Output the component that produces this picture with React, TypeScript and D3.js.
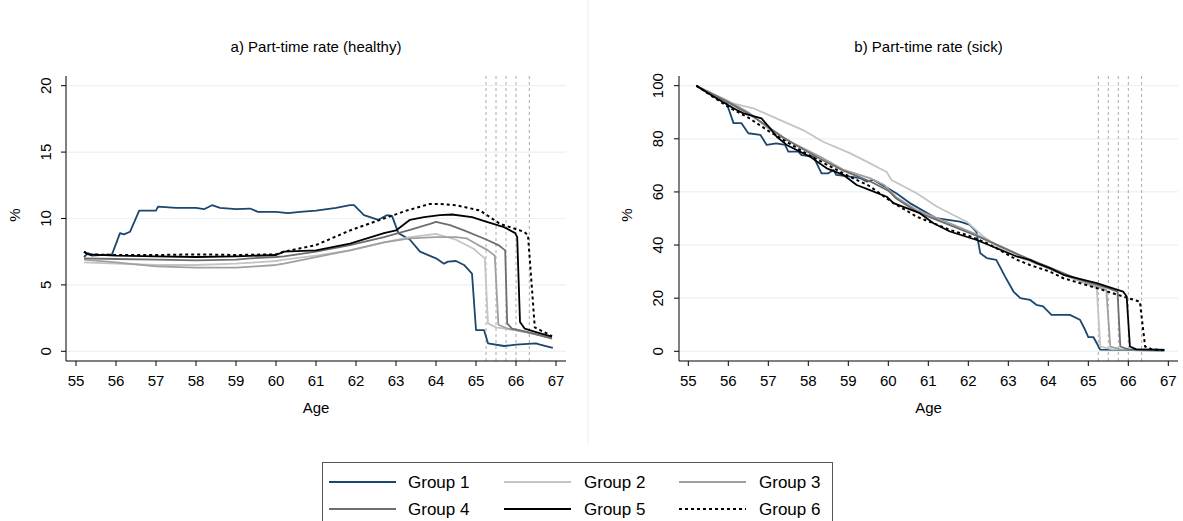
import React from "react";
import * as d3 from "d3";

// ---------- DATA ----------
const groupNames = ["Group 1", "Group 2", "Group 3", "Group 4", "Group 5", "Group 6"];
const xTicks = [55, 56, 57, 58, 59, 60, 61, 62, 63, 64, 65, 66, 67];
const yTicksHealthy = [0, 5, 10, 15, 20];
const yTicksSick = [0, 20, 40, 60, 80, 100];
const retirementAges = [65.25, 65.5, 65.75, 66, 66.333];

// a) healthy: [age, %]
const healthyG1: [number, number][] = [[55.2,7.1],[55.3,7.4],[55.4,7.2],[55.9,7.3],[56.1,8.9],[56.2,8.8],[56.35,9.0],[56.58,10.6],[57.0,10.6],[57.05,10.9],[57.5,10.8],[58.0,10.8],[58.2,10.7],[58.4,11.0],[58.6,10.8],[59.0,10.7],[59.35,10.75],[59.55,10.5],[60.0,10.5],[60.3,10.4],[60.6,10.5],[61.0,10.6],[61.5,10.8],[61.85,11.0],[61.95,11.0],[62.2,10.25],[62.56,9.9],[62.77,10.25],[62.9,10.2],[63.06,8.9],[63.35,8.4],[63.6,7.5],[64.0,7.0],[64.2,6.6],[64.3,6.75],[64.5,6.8],[64.7,6.5],[64.9,5.85],[65.0,1.6],[65.2,1.6],[65.3,0.6],[65.7,0.4],[66.0,0.5],[66.5,0.6],[66.6,0.5],[66.92,0.25]];
const healthyG2: [number, number][] = [[55.2,6.7],[56,6.6],[57,6.5],[58,6.5],[59,6.6],[59.5,6.7],[60,6.8],[60.2,6.9],[61,7.2],[61.85,7.6],[62.7,8.2],[63.35,8.6],[64,8.85],[64.5,8.4],[64.95,7.7],[65.1,7.3],[65.22,7.0],[65.3,2.1],[65.5,1.8],[66,1.6],[66.5,1.3],[66.9,1.05]];
const healthyG3: [number, number][] = [[55.2,6.9],[56,6.7],[57,6.4],[58,6.3],[59,6.3],[59.5,6.4],[60,6.5],[60.2,6.6],[61,7.1],[61.85,7.6],[62.7,8.2],[63.35,8.5],[64,8.6],[64.5,8.6],[64.77,8.5],[65.0,8.1],[65.3,7.6],[65.47,7.2],[65.56,2.0],[65.8,1.7],[66.3,1.4],[66.9,1.0]];
const healthyG4: [number, number][] = [[55.2,7.0],[56,6.95],[57,6.9],[58,6.85],[59,6.9],[59.35,7.0],[60,7.1],[60.2,7.15],[61,7.5],[61.85,8.0],[62.7,8.6],[63.35,9.15],[63.85,9.6],[64.0,9.75],[64.35,9.5],[64.7,9.1],[65.27,8.4],[65.56,8.0],[65.73,7.6],[65.78,2.1],[65.9,1.7],[66.3,1.45],[66.9,0.95]];
const healthyG5: [number, number][] = [[55.2,7.5],[55.3,7.3],[56,7.2],[57,7.15],[58,7.1],[59,7.15],[60,7.25],[60.2,7.5],[61,7.6],[61.85,8.1],[62.7,8.9],[63.0,9.1],[63.35,9.9],[63.7,10.1],[64.1,10.25],[64.4,10.3],[64.9,10.1],[65.27,9.75],[65.7,9.35],[65.98,8.9],[66.03,8.6],[66.1,2.2],[66.22,1.7],[66.5,1.45],[66.9,1.1]];
const healthyG6: [number, number][] = [[55.2,7.5],[55.3,7.3],[56,7.25],[57,7.25],[58,7.3],[59,7.25],[60,7.3],[60.2,7.5],[61,8.0],[61.85,9.1],[62.7,10.0],[63.27,10.6],[63.85,11.1],[64.1,11.1],[64.5,11.0],[65.1,10.6],[65.6,9.6],[66.2,9.0],[66.3,8.75],[66.47,1.8],[66.7,1.45],[66.9,1.15]];

// b) sick: [age, %]
const sickG1: [number, number][] = [[55.2,100],[55.37,98.4],[55.96,93.4],[56.13,85.9],[56.33,85.9],[56.5,82.1],[56.8,81.5],[56.96,77.7],[57.2,78.3],[57.42,77.7],[57.5,75.2],[57.75,75.2],[57.83,73.9],[58.13,73.3],[58.33,67],[58.5,67],[58.63,68.3],[58.7,66.4],[59.04,65.8],[59.3,65.2],[59.46,63.9],[59.63,64.5],[59.92,62],[60.2,59.5],[60.54,55.8],[61.2,50.1],[61.79,48.8],[62.04,47.6],[62.2,45.1],[62.3,36.9],[62.46,35.1],[62.7,34.4],[62.92,28.1],[63.13,22.5],[63.3,20],[63.54,19.4],[63.7,17.5],[63.87,16.9],[64.08,13.7],[64.54,13.7],[64.79,11.9],[64.92,8.1],[65.0,5.3],[65.13,5.3],[65.3,0.6],[66.9,0.3]];
const sickG2: [number, number][] = [[55.2,100],[55.8,94.5],[56.63,91.5],[57.2,87.7],[57.87,83.3],[58.37,78.9],[59.04,74.6],[59.46,71.4],[59.96,67.5],[60.08,64.5],[60.71,59.5],[61.21,54.5],[61.54,52],[61.96,48.8],[62.38,43.2],[62.79,38.8],[63.21,35.7],[64.04,31],[64.6,27.5],[65.0,25.2],[65.21,24],[65.3,1.8],[65.6,0.7],[66.9,0.5]];
const sickG3: [number, number][] = [[55.2,100],[55.96,94.5],[56.5,90],[57.0,84],[57.38,80.2],[57.71,77.7],[58.29,73.3],[58.88,68.3],[59.54,65.2],[59.9,62.6],[60.2,58],[60.71,53.2],[61.54,48.2],[62.2,44],[62.8,39.5],[63.5,34.5],[64.04,31],[64.6,27.5],[65.0,25.5],[65.45,23.1],[65.55,1.8],[65.8,0.7],[66.9,0.5]];
const sickG4: [number, number][] = [[55.2,100],[55.96,94],[56.5,89.5],[57.0,84.5],[57.38,80.5],[57.71,77.5],[58.29,72.5],[58.88,68],[59.54,64],[60.0,60.5],[60.2,57.5],[60.71,52.5],[61.54,47.5],[62.2,43.5],[62.8,39.5],[63.5,34.8],[64.04,31.5],[64.6,28],[65.0,26],[65.5,23.8],[65.73,22.5],[65.8,1.8],[66.0,0.7],[66.9,0.5]];
const sickG5: [number, number][] = [[55.2,100],[55.63,95.9],[56.13,91.5],[56.38,89.6],[56.83,87.7],[57.04,84],[57.21,80.8],[57.46,77.7],[57.71,75.8],[58.04,73.3],[58.46,68.9],[58.88,66.4],[59.21,62.6],[59.54,60.7],[59.96,58.2],[60.13,55.8],[60.46,53.9],[60.79,52],[61.13,48.2],[61.54,45.1],[62.21,41.9],[62.71,38.8],[63.21,35.7],[63.54,34.4],[63.71,33.2],[64.04,31.3],[64.38,28.8],[65.21,25.7],[65.87,22.5],[65.96,20.6],[66.04,1.8],[66.2,0.7],[66.9,0.5]];
const sickG6: [number, number][] = [[55.2,100],[55.6,96],[56.0,92],[56.5,88],[57.0,83],[57.5,78.5],[58.0,74],[58.5,70],[59.0,66],[59.5,62.5],[60.13,55.8],[60.71,50.7],[61.54,45.7],[61.96,43.8],[62.5,40.5],[63.21,34.5],[63.54,32.5],[64.04,30],[64.38,27.5],[65.21,23.8],[66.0,20],[66.29,18.7],[66.42,1.8],[66.6,0.7],[66.9,0.5]];

// ---------- STYLE ----------
const colors = ["#1a476f", "#c4c4c4", "#a0a0a0", "#6e6e6e", "#000000", "#000000"];
const dashes = ["", "", "", "", "", "3,3"];
const FONT = "'Liberation Sans', Arial, sans-serif";

type PanelProps = {
  title: string;
  series: [number, number][][];
  yTicks: number[];
  yMax: number;
  axisX: number;
  x0: number;
  plotRight: number;
  labelX: number;
  pctX: number;
};

function Panel({ title, series, yTicks, yMax, axisX, x0, plotRight, labelX, pctX }: PanelProps) {
  const top = 76;
  const axisY = 361;
  const x = d3.scaleLinear().domain([55, 67]).range([x0, x0 + 480]);
  const y = d3.scaleLinear().domain([0, yMax]).range([351.3, 85.7]);
  const line = d3
    .line<[number, number]>()
    .x((d) => x(d[0]))
    .y((d) => y(d[1]));
  const cx = (axisX + plotRight) / 2;
  return (
    <g>
      <text x={cx} y={52} textAnchor="middle" fontSize={15} fontFamily={FONT} fill="#000">
        {title}
      </text>
      {yTicks.map((t) => (
        <line key={"g" + t} x1={axisX + 1} x2={plotRight} y1={y(t)} y2={y(t)} stroke="#eaf2f3" strokeWidth={1.2} />
      ))}
      {retirementAges.map((a) => (
        <line key={"r" + a} x1={x(a)} x2={x(a)} y1={top} y2={axisY} stroke="#aaaaaa" strokeWidth={1} strokeDasharray="3,3" />
      ))}
      {series.map((s, i) => (
        <path
          key={"s" + i}
          d={line(s) || ""}
          fill="none"
          stroke={colors[i]}
          strokeWidth={i === 5 ? 2 : 1.8}
          strokeDasharray={dashes[i] || undefined}
          strokeLinejoin="round"
        />
      ))}
      <line x1={axisX} x2={axisX} y1={top} y2={axisY} stroke="#000" strokeWidth={1} />
      <line x1={axisX} x2={plotRight} y1={axisY} y2={axisY} stroke="#000" strokeWidth={1} />
      {yTicks.map((t) => (
        <g key={"yt" + t}>
          <line x1={axisX - 5} x2={axisX} y1={y(t)} y2={y(t)} stroke="#000" />
          <text
            transform={`translate(${labelX},${y(t)}) rotate(-90)`}
            textAnchor="middle"
            fontSize={15}
            fontFamily={FONT}
          >
            {t}
          </text>
        </g>
      ))}
      {xTicks.map((t) => (
        <g key={"xt" + t}>
          <line x1={x(t)} x2={x(t)} y1={axisY} y2={axisY + 5} stroke="#000" />
          <text x={x(t)} y={386} textAnchor="middle" fontSize={15} fontFamily={FONT}>
            {t}
          </text>
        </g>
      ))}
      <text x={cx} y={413} textAnchor="middle" fontSize={15} fontFamily={FONT}>
        Age
      </text>
      <text transform={`translate(${pctX},215) rotate(-90)`} textAnchor="middle" fontSize={15} fontFamily={FONT}>
        %
      </text>
    </g>
  );
}

function Legend() {
  const colLine = [329, 504, 679];
  const colText = [408, 584, 759];
  const rows = [482, 509];
  return (
    <g>
      <rect x={322.5} y={462.5} width={510} height={70} fill="#fff" stroke="#555" strokeWidth={1} />
      {groupNames.map((name, i) => {
        const r = Math.floor(i / 3);
        const c = i % 3;
        return (
          <g key={name}>
            <line
              x1={colLine[c]}
              x2={colLine[c] + 67}
              y1={rows[r]}
              y2={rows[r]}
              stroke={colors[i]}
              strokeWidth={i === 5 ? 2 : 1.8}
              strokeDasharray={dashes[i] || undefined}
            />
            <text x={colText[c]} y={rows[r] + 6} fontSize={17} fontFamily={FONT}>
              {name}
            </text>
          </g>
        );
      })}
    </g>
  );
}

export default function App() {
  return (
    <svg
      width={1183}
      height={521}
      style={{ position: "absolute", left: 0, top: 0, background: "#fff" }}
    >
      <rect x={0} y={0} width={1183} height={521} fill="#fff" />
      <line x1={588} x2={588} y1={0} y2={445} stroke="#eeeeee" strokeWidth={1} />
      <Panel
        title="a) Part-time rate (healthy)"
        series={[healthyG1, healthyG2, healthyG3, healthyG4, healthyG5, healthyG6]}
        yTicks={yTicksHealthy}
        yMax={20}
        axisX={66}
        x0={76}
        plotRight={566}
        labelX={51}
        pctX={20}
      />
      <Panel
        title="b) Part-time rate (sick)"
        series={[sickG1, sickG2, sickG3, sickG4, sickG5, sickG6]}
        yTicks={yTicksSick}
        yMax={100}
        axisX={679}
        x0={688.3}
        plotRight={1178}
        labelX={663}
        pctX={632}
      />
      <Legend />
    </svg>
  );
}
